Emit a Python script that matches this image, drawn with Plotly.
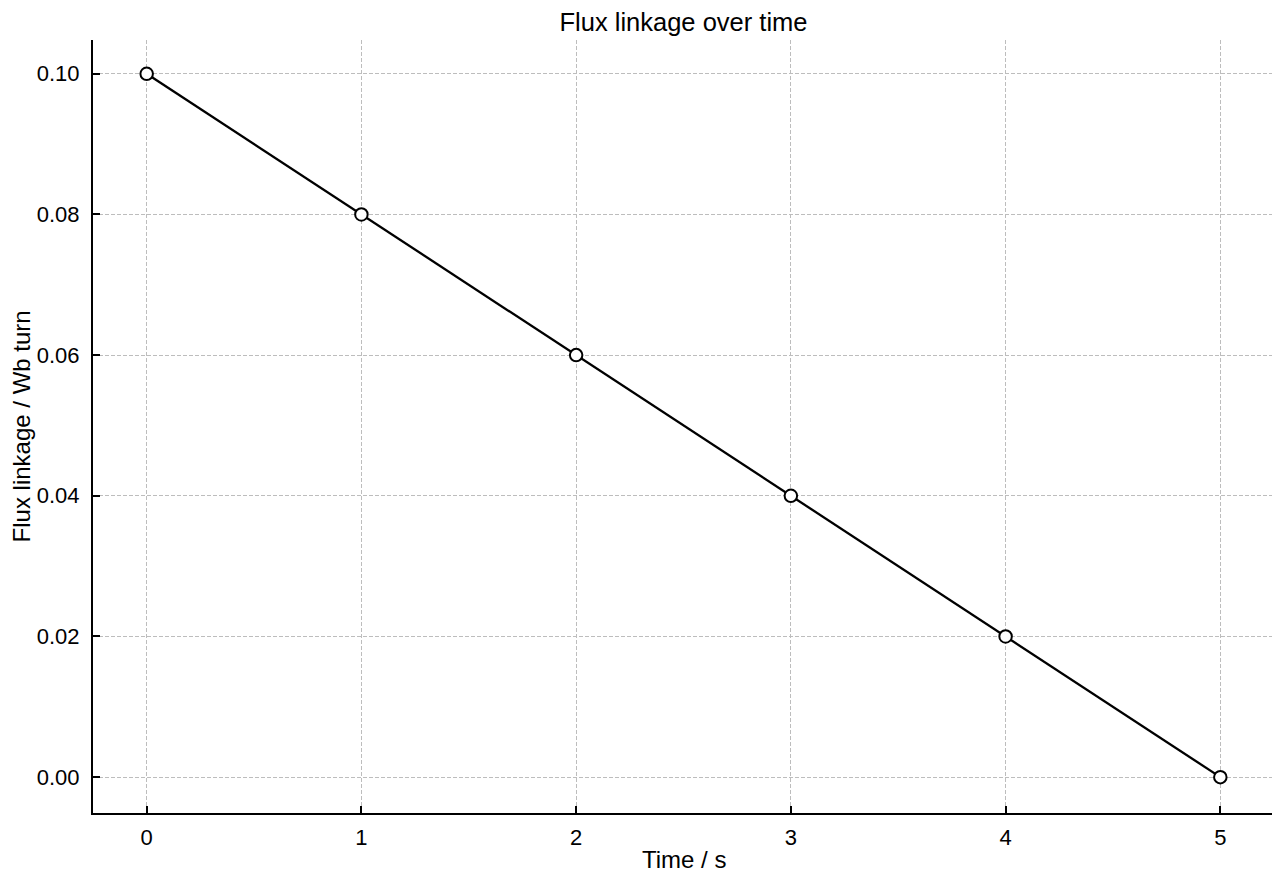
import plotly.graph_objects as go

time_s = [0, 1, 2, 3, 4, 5]
flux_wb = [0.10, 0.08, 0.06, 0.04, 0.02, 0.00]

fig = go.Figure()
fig.add_trace(go.Scatter(
    x=time_s, y=flux_wb, mode="lines+markers",
    line=dict(color="black", width=2.3),
    marker=dict(symbol="circle", size=12.5, color="white", line=dict(color="black", width=2)),
    showlegend=False, cliponaxis=False,
))

axis_common = dict(
    showline=True, linecolor="black", linewidth=2, mirror=False,
    ticks="inside", ticklen=7, tickwidth=2, tickcolor="black",
    showgrid=True, gridcolor="#bdbdbd", gridwidth=1, griddash="4px,2px",
    zeroline=False, tickfont=dict(size=22, color="black"), automargin=False,
)

fig.update_layout(
    width=1280, height=880,
    paper_bgcolor="white", plot_bgcolor="white",
    font=dict(family="Liberation Sans, Arial, sans-serif", color="black"),
    title=dict(text="Flux linkage over time", x=0.5, xref="paper", xanchor="center",
               yref="container", y=0.984, yanchor="middle",
               font=dict(size=25.5, color="black"), automargin=False),
    margin=dict(l=85, r=14, t=32, b=75),
    xaxis=dict(range=[-0.25, 5.25], tickvals=[0, 1, 2, 3, 4, 5], ticklabelstandoff=4,
               **axis_common),
    yaxis=dict(range=[-0.0051, 0.1048], tickvals=[0, 0.02, 0.04, 0.06, 0.08, 0.10], tickformat=".2f",
               ticklabelstandoff=7, **axis_common),
    annotations=[
        dict(text="Time / s", xref="paper", yref="paper", x=0.5, y=-0.0608,
             xanchor="center", yanchor="middle", showarrow=False, font=dict(size=24, color="black")),
        dict(text="Flux linkage / Wb turn", xref="paper", yref="paper", x=-0.0602, y=0.5,
             xanchor="center", yanchor="middle", textangle=-90, showarrow=False,
             font=dict(size=24, color="black")),
    ],
)

fig.write_html("out.html")
